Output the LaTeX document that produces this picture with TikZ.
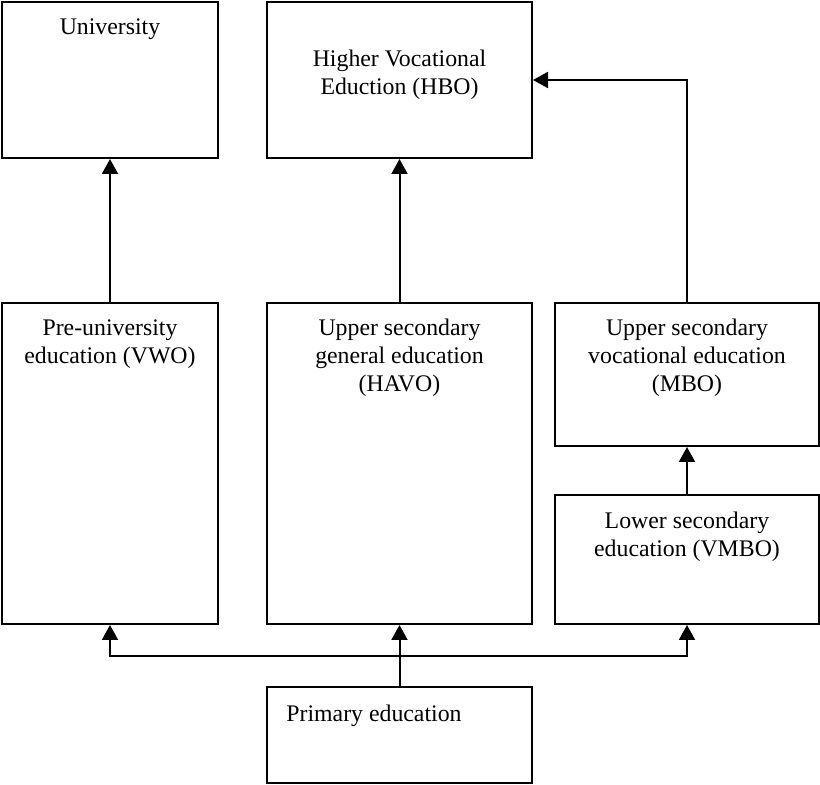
\documentclass[tikz,border=0pt]{standalone}
\usepackage{fontspec}
\setmainfont{Liberation Serif}
\usetikzlibrary{arrows.meta}
\tikzset{
  box/.style={draw, line width=1pt, inner sep=0pt},
  lbl/.style={anchor=north, inner sep=0pt, align=center, yshift=-#1,
    font=\fontsize{11.9}{14}\selectfont},
  lbl/.default=8.5pt,
  arr/.style={line width=1pt, -{Triangle[width=8pt,length=7.5pt]}}
}
\begin{document}
\begin{tikzpicture}[x=0.5pt, y=-0.5pt]
	\useasboundingbox (0,0) rectangle (820,785);
	
	\node [box, minimum width=108pt, minimum height=78pt,
	  label={[lbl]north:University}] (uni) at (110,80) {};
	\node [box, minimum width=132.5pt, minimum height=78pt,
	  label={[lbl=24.5pt]north:Higher Vocational\\Eduction (HBO)}] (hbo) at (399.5,80) {};
	\node [box, minimum width=108pt, minimum height=160.5pt,
	  label={[lbl]north:Pre-university\\education (VWO)}] (vwo) at (110,463.5) {};
	\node [box, minimum width=132.5pt, minimum height=160.5pt,
	  label={[lbl]north:Upper secondary\\general education\\(HAVO)}] (havo) at (399.5,463.5) {};
	\node [box, minimum width=132pt, minimum height=71.5pt,
	  label={[lbl]north:Upper secondary\\vocational education\\(MBO)}] (mbo) at (687,374.5) {};
	\node [box, minimum width=132pt, minimum height=64.5pt,
	  label={[lbl=9pt]north:Lower secondary\\education (VMBO)}] (vmbo) at (687,559.5) {};
	\node [box, minimum width=132.5pt, minimum height=48pt,
	  label={[lbl=9.5pt, anchor=north west, xshift=10pt]north west:Primary education}] (prim) at (399.5,735) {};
	
	\coordinate (split) at (399.5,656);
	
	\draw [arr] (vwo.north) -- (uni.south);
	\draw [arr] (havo.north) -- (hbo.south);
	\draw [arr] (mbo.north) |- (hbo.east);
	\draw [arr] (vmbo.north) -- (mbo.south);
	\draw [arr] (prim.north) -- (havo.south);
	\draw [arr] (split) -| (vwo.south);
	\draw [arr] (split) -| (vmbo.south); %to VMBO
\end{tikzpicture}
\end{document}
